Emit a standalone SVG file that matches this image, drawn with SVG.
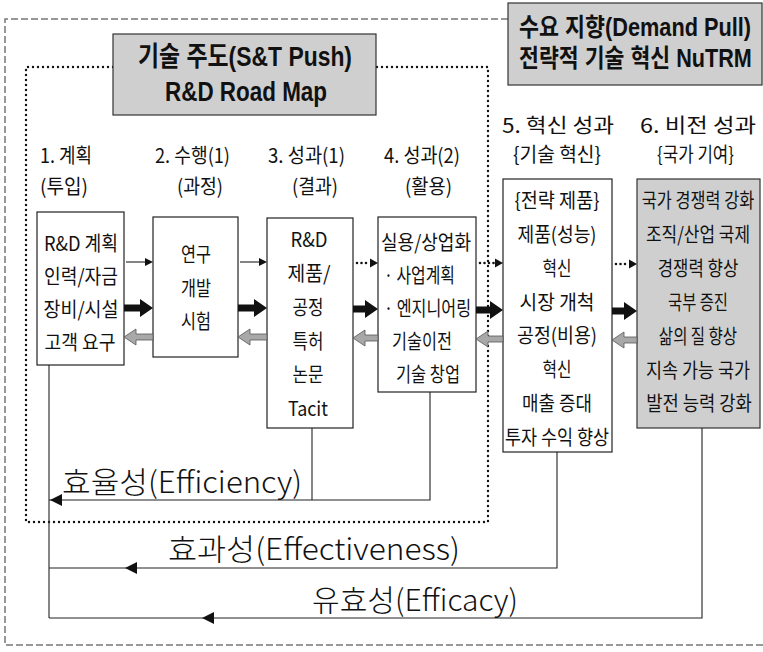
<svg xmlns="http://www.w3.org/2000/svg" width="763" height="652" viewBox="0 0 763 652">
<defs>
<style>
.t{font-family:"Noto Sans CJK KR","Noto Sans",sans-serif;font-size:20px;fill:#111}
.m{text-anchor:middle}
.ti{font-family:"Liberation Sans","Noto Sans CJK KR",sans-serif;font-weight:bold;font-size:27px;fill:#111}
.big{font-family:"Noto Sans CJK KR","Noto Sans",sans-serif;font-size:30px;fill:#111;font-weight:300}
.box{fill:#fff;stroke:#222;stroke-width:1.2}
.gbox{fill:#cfcfcf;stroke:#333;stroke-width:1.2}
.ln{fill:none;stroke:#222;stroke-width:1.1}
.dash{fill:none;stroke:#777;stroke-width:1.5;stroke-dasharray:7 3}
.dot{fill:none;stroke:#111;stroke-width:2.4;stroke-dasharray:0 5;stroke-linecap:round}
.dotar{fill:none;stroke:#111;stroke-width:2.6;stroke-dasharray:0 4.5;stroke-linecap:round}
.blk{fill:#111}
.gray{fill:#a8a8a8;stroke:#555;stroke-width:0.8}
</style>
</defs>

<g id="frame">
<path class="dash" d="M508,19 H5 V645 H763"/>
<path class="dot" d="M113,67 H26 V522 H488 V67 H376"/>
</g>

<g id="st-push">
<rect class="gbox" x="113" y="34" width="263" height="81"/>
<text class="ti m" x="245" y="66" textLength="214" lengthAdjust="spacingAndGlyphs">기술 주도(S&amp;T Push)</text>
<text class="ti m" x="246" y="101" textLength="162" lengthAdjust="spacingAndGlyphs">R&amp;D Road Map</text>
</g>

<g id="demand-pull">
<rect class="gbox" x="508" y="3" width="254" height="82"/>
<text class="ti" transform="translate(519 36) scale(0.82 1)" x="0" y="0" textLength="283" lengthAdjust="spacingAndGlyphs" style="font-size:25px">수요 지향(Demand Pull)</text>
<text class="ti" transform="translate(519 67) scale(0.82 1)" x="0" y="0" textLength="284" lengthAdjust="spacingAndGlyphs" style="font-size:25px">전략적 기술 혁신 NuTRM</text>
</g>

<g id="headers">
<text class="t" x="40" y="163" textLength="52" lengthAdjust="spacingAndGlyphs">1. 계획</text>
<text class="t" x="40" y="194" textLength="48" lengthAdjust="spacingAndGlyphs">(투입)</text>
<text class="t" x="155" y="163" textLength="75" lengthAdjust="spacingAndGlyphs">2. 수행(1)</text>
<text class="t" x="177" y="194" textLength="46" lengthAdjust="spacingAndGlyphs">(과정)</text>
<text class="t" x="268" y="163" textLength="77" lengthAdjust="spacingAndGlyphs">3. 성과(1)</text>
<text class="t" x="292" y="194" textLength="46" lengthAdjust="spacingAndGlyphs">(결과)</text>
<text class="t" x="384" y="163" textLength="76" lengthAdjust="spacingAndGlyphs">4. 성과(2)</text>
<text class="t" x="405" y="194" textLength="47" lengthAdjust="spacingAndGlyphs">(활용)</text>
<text class="t" x="502" y="133" textLength="112" lengthAdjust="spacingAndGlyphs">5. 혁신 성과</text>
<text class="t" x="513" y="162" textLength="88" lengthAdjust="spacingAndGlyphs">{기술 혁신}</text>
<text class="t" x="640" y="133" textLength="116" lengthAdjust="spacingAndGlyphs">6. 비전 성과</text>
<text class="t" x="657" y="162" textLength="77" lengthAdjust="spacingAndGlyphs">{국가 기여}</text>
</g>

<g id="box1">
<rect class="box" x="37" y="212" width="87" height="153"/>
<text class="t m" x="81" y="251" textLength="74" lengthAdjust="spacingAndGlyphs">R&amp;D 계획</text>
<text class="t m" x="81" y="284" textLength="74" lengthAdjust="spacingAndGlyphs">인력/자금</text>
<text class="t m" x="81" y="317" textLength="75" lengthAdjust="spacingAndGlyphs">장비/시설</text>
<text class="t m" x="80" y="350" textLength="71" lengthAdjust="spacingAndGlyphs">고객 요구</text>
</g>

<g id="box2">
<rect class="box" x="153" y="217" width="85" height="140"/>
<text class="t m" x="196" y="262" textLength="30" lengthAdjust="spacingAndGlyphs">연구</text>
<text class="t m" x="196" y="296" textLength="30" lengthAdjust="spacingAndGlyphs">개발</text>
<text class="t m" x="196" y="329" textLength="30" lengthAdjust="spacingAndGlyphs">시험</text>
</g>

<g id="box3">
<rect class="box" x="267" y="218" width="86" height="210"/>
<text class="t m" x="309" y="247" textLength="37" lengthAdjust="spacingAndGlyphs">R&amp;D</text>
<text class="t m" x="309" y="281" textLength="43" lengthAdjust="spacingAndGlyphs">제품/</text>
<text class="t m" x="308" y="315" textLength="31" lengthAdjust="spacingAndGlyphs">공정</text>
<text class="t m" x="308" y="349" textLength="31" lengthAdjust="spacingAndGlyphs">특허</text>
<text class="t m" x="308" y="382" textLength="31" lengthAdjust="spacingAndGlyphs">논문</text>
<text class="t m" x="308" y="416" textLength="40" lengthAdjust="spacingAndGlyphs">Tacit</text>
</g>

<g id="box4">
<rect class="box" x="378" y="217" width="98" height="175"/>
<text class="t" x="381" y="250" textLength="90" lengthAdjust="spacingAndGlyphs">실용/상업화</text>
<text class="t" x="384" y="283" textLength="71" lengthAdjust="spacingAndGlyphs">· 사업계획</text>
<text class="t" x="384" y="316" textLength="87" lengthAdjust="spacingAndGlyphs">· 엔지니어링</text>
<text class="t" x="392" y="349" textLength="60" lengthAdjust="spacingAndGlyphs">기술이전</text>
<text class="t" x="396" y="382" textLength="64" lengthAdjust="spacingAndGlyphs">기술 창업</text>
</g>

<g id="box5">
<rect class="box" x="503" y="179" width="109" height="273"/>
<text class="t m" x="557" y="208" textLength="85" lengthAdjust="spacingAndGlyphs">{전략 제품}</text>
<text class="t m" x="557" y="242" textLength="79" lengthAdjust="spacingAndGlyphs">제품(성능)</text>
<text class="t m" x="557" y="276" textLength="29" lengthAdjust="spacingAndGlyphs">혁신</text>
<text class="t m" x="557" y="310" textLength="75" lengthAdjust="spacingAndGlyphs">시장 개척</text>
<text class="t m" x="557" y="343" textLength="80" lengthAdjust="spacingAndGlyphs">공정(비용)</text>
<text class="t m" x="557" y="377" textLength="29" lengthAdjust="spacingAndGlyphs">혁신</text>
<text class="t m" x="557" y="411" textLength="70" lengthAdjust="spacingAndGlyphs">매출 증대</text>
<text class="t m" x="557" y="445" textLength="104" lengthAdjust="spacingAndGlyphs">투자 수익 향상</text>
</g>

<g id="box6">
<rect class="gbox" x="637" y="179" width="123" height="249"/>
<text class="t m" transform="translate(698 208) scale(0.76 1)" textLength="148" lengthAdjust="spacingAndGlyphs">국가 경쟁력 강화</text>
<text class="t m" transform="translate(698 242) scale(0.76 1)" textLength="137" lengthAdjust="spacingAndGlyphs">조직/산업 국제</text>
<text class="t m" transform="translate(698 276) scale(0.76 1)" textLength="106" lengthAdjust="spacingAndGlyphs">경쟁력 향상</text>
<text class="t m" transform="translate(698 310) scale(0.76 1)" textLength="79" lengthAdjust="spacingAndGlyphs">국부 증진</text>
<text class="t m" transform="translate(698 344) scale(0.76 1)" textLength="103" lengthAdjust="spacingAndGlyphs">삶의 질 향상</text>
<text class="t m" transform="translate(698 378) scale(0.76 1)" textLength="137" lengthAdjust="spacingAndGlyphs">지속 가능 국가</text>
<text class="t m" transform="translate(699 411) scale(0.76 1)" textLength="139" lengthAdjust="spacingAndGlyphs">발전 능력 강화</text>
</g>

<g id="connectors">
<!-- 1 -> 2 -->
<line class="ln" x1="126" y1="262" x2="146" y2="262"/>
<path class="blk" d="M153,262 L145,258 L145,266 Z"/>
<path class="blk" d="M124,304.5 H140 V299 L153,308 L140,317 V311.5 H124 Z"/>
<path class="gray" d="M124,337 L136,329 V334 H153 V340 H136 V345 Z"/>
<!-- 2 -> 3 -->
<line class="ln" x1="240" y1="262" x2="260" y2="262"/>
<path class="blk" d="M267,262 L259,258 L259,266 Z"/>
<path class="blk" d="M238,304.5 H254 V299 L267,308 L254,317 V311.5 H238 Z"/>
<path class="gray" d="M238,337 L250,329 V334 H267 V340 H250 V345 Z"/>
<!-- 3 -> 4 -->
<line class="dotar" x1="357" y1="263" x2="370" y2="263"/>
<path class="blk" d="M378,263 L370,258.5 L370,267.5 Z"/>
<path class="blk" d="M353,305.5 H365 V300 L378,309 L365,318 V312.5 H353 Z"/>
<path class="gray" d="M353,338 L365,330 V335 H378 V341 H365 V346 Z"/>
<!-- 4 -> 5 -->
<line class="dotar" x1="480" y1="263" x2="495" y2="263"/>
<path class="blk" d="M503,263 L495,258.5 L495,267.5 Z"/>
<path class="blk" d="M476,306.5 H490 V301 L503,310 L490,319 V313.5 H476 Z"/>
<path class="gray" d="M476,339 L488,331 V336 H503 V342 H488 V347 Z"/>
<!-- 5 -> 6 -->
<line class="dotar" x1="616" y1="264" x2="629" y2="264"/>
<path class="blk" d="M637,264 L629,259.5 L629,268.5 Z"/>
<path class="blk" d="M612,307.5 H624 V302 L637,311 L624,320 V314.5 H612 Z"/>
<path class="gray" d="M612,340 L624,332 V337 H637 V343 H624 V348 Z"/>
<!-- feedback loops -->
<path class="ln" d="M49,365 V618"/>
<path class="ln" d="M312,428 V500"/>
<path class="ln" d="M430,392 V500 H49"/>
<path class="blk" d="M50,500 L62,494 L62,506 Z"/>
<path class="ln" d="M557,452 V568 H49"/>
<path class="blk" d="M125,568 L137,562 L137,574 Z"/>
<path class="ln" d="M702,428 V618 H49"/>
<path class="blk" d="M202,618 L214,612 L214,624 Z"/>
</g>

<g id="labels">
<text class="big" x="62" y="493" textLength="240" lengthAdjust="spacingAndGlyphs">효율성(Efficiency)</text>
<text class="big" x="168" y="560" textLength="292" lengthAdjust="spacingAndGlyphs">효과성(Effectiveness)</text>
<text class="big" x="312" y="611" textLength="206" lengthAdjust="spacingAndGlyphs">유효성(Efficacy)</text>
</g>
</svg>
